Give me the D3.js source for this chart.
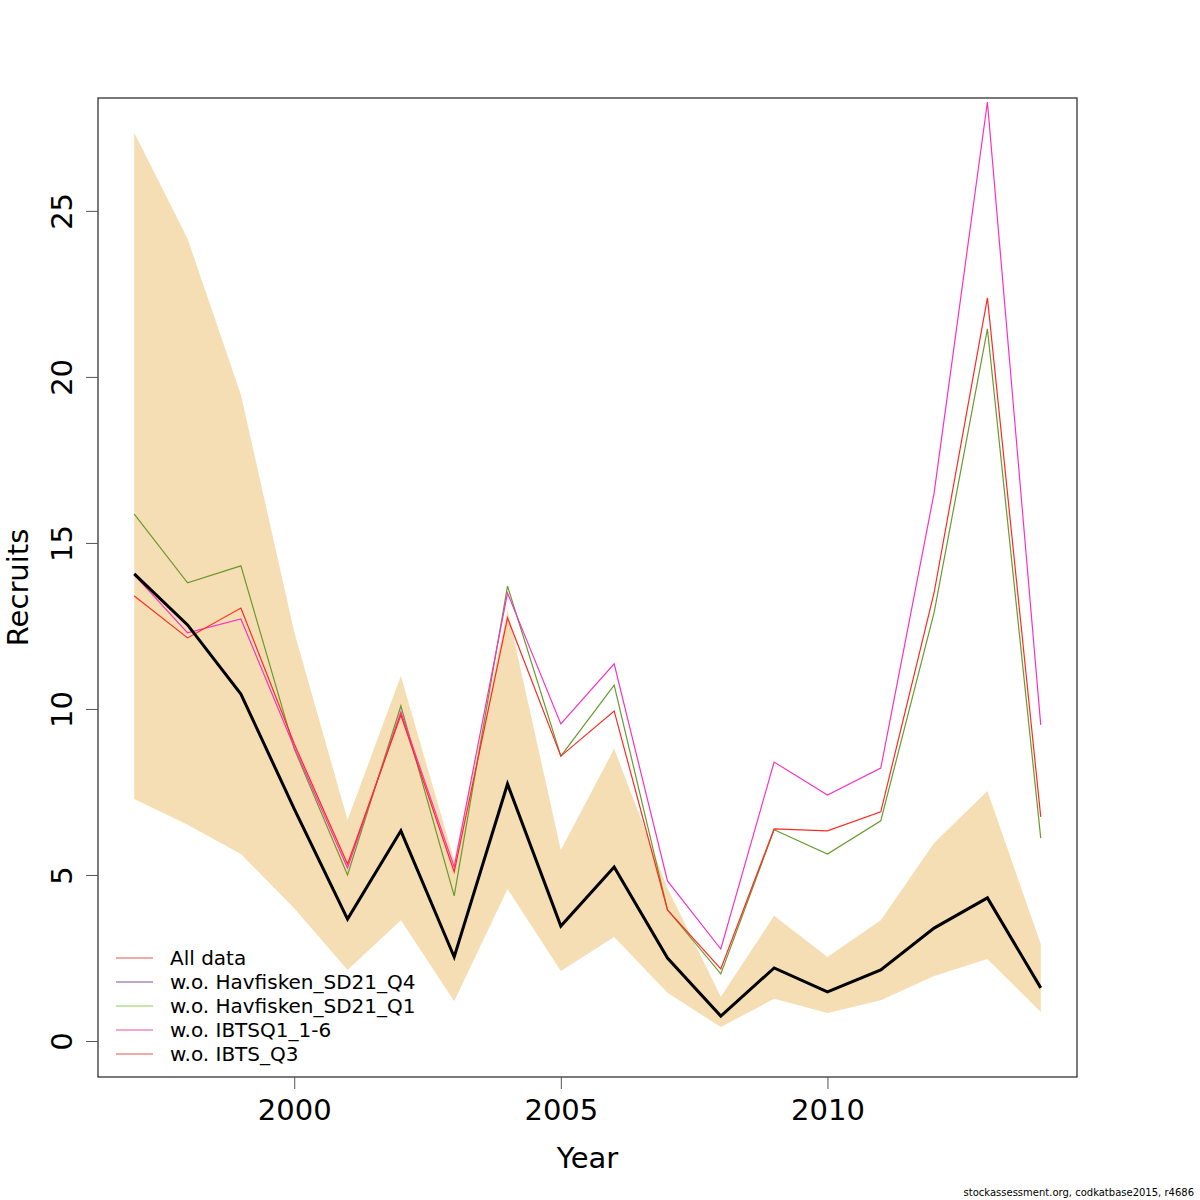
<!DOCTYPE html>
<html>
<head>
<meta charset="utf-8">
<title>Recruits leave-out</title>
<script src="https://d3js.org/d3.v7.min.js"></script>
<style>
    body { margin: 0; background: #fff; }
    text { font-family: "DejaVu Sans", sans-serif; fill: #000; }
</style>
</head>
<body>
<script>
    const years = d3.range(1997, 2015);
    const allData = [14.07, 12.53, 10.45, 6.99, 3.67, 6.33, 2.53, 7.74, 3.46, 5.24, 2.50, 0.75, 2.20, 1.48, 2.14, 3.40, 4.31, 1.60];
    const upper = [27.35, 24.16, 19.46, 12.32, 6.66, 10.99, 5.45, 12.98, 5.75, 8.80, 4.60, 1.33, 3.77, 2.53, 3.64, 5.96, 7.53, 2.92];
    const lower = [7.29, 6.51, 5.63, 4.00, 2.14, 3.64, 1.20, 4.58, 2.11, 3.13, 1.45, 0.42, 1.27, 0.84, 1.23, 1.96, 2.47, 0.87];
    const woHavQ4 = [14.07, 12.53, 10.45, 6.99, 3.67, 6.33, 2.53, 7.74, 3.46, 5.24, 2.50, 0.75, 2.20, 1.48, 2.14, 3.40, 4.31, 1.60];
    const woHavQ1 = [15.87, 13.80, 14.31, 8.80, 5.00, 10.09, 4.37, 13.70, 8.58, 10.72, 3.95, 2.02, 6.36, 5.63, 6.63, 12.90, 21.45, 6.11];
    const woIBTSQ1 = [14.04, 12.29, 12.71, 8.85, 5.21, 9.91, 5.24, 13.49, 9.55, 11.36, 4.82, 2.77, 8.40, 7.41, 8.22, 16.50, 28.28, 9.52];
    const woIBTSQ3 = [13.40, 12.14, 13.04, 8.95, 5.33, 9.82, 5.09, 12.74, 8.58, 9.94, 3.95, 2.17, 6.39, 6.33, 6.90, 13.50, 22.38, 6.75];

    const legendLabels = ["All data", "w.o. Havfisken_SD21_Q4", "w.o. Havfisken_SD21_Q1", "w.o. IBTSQ1_1-6", "w.o. IBTS_Q3"];
    const legendColors = ["#e8534a", "#7e4fa8", "#8cd152", "#e8519e", "#e8534a"];
    const xTicks = [2000, 2005, 2010];
    const yTicks = [0, 5, 10, 15, 20, 25];

    const width = 1200, height = 1200;
    const plotLeft = 98, plotRight = 1077, plotTop = 98, plotBottom = 1077;

    const svg = d3.select("body").append("svg")
        .attr("width", width)
        .attr("height", height);

    const x = d3.scaleLinear().domain([1996.32, 2014.68]).range([plotLeft, plotRight]);
    const y = d3.scaleLinear().domain([-1.084, 28.40]).range([plotBottom, plotTop]);

    // confidence band
    const area = d3.area()
        .x(function(d, i) { return x(years[i]); })
        .y0(function(d, i) { return y(lower[i]); })
        .y1(function(d) { return y(d); });
    svg.append("path")
        .attr("d", area(upper))
        .attr("fill", "#f5deb3");

    const line = d3.line()
        .x(function(d, i) { return x(years[i]); })
        .y(function(d) { return y(d); });

    const series = [
        {values: woHavQ4, color: "#7e4fa8"},
        {values: woHavQ1, color: "#6a9a2f"},
        {values: woIBTSQ1, color: "#fa32c4"},
        {values: woIBTSQ3, color: "#ff2a22"}
    ];
    svg.append("g").selectAll("path")
        .data(series)
        .join("path")
        .attr("d", function(d) { return line(d.values); })
        .attr("fill", "none")
        .attr("stroke", function(d) { return d.color; })
        .attr("stroke-width", 1.2);

    svg.append("path")
        .attr("d", line(allData))
        .attr("fill", "none")
        .attr("stroke", "#000")
        .attr("stroke-width", 3);

    // box
    svg.append("rect")
        .attr("x", plotLeft).attr("y", plotTop)
        .attr("width", plotRight - plotLeft).attr("height", plotBottom - plotTop)
        .attr("fill", "none").attr("stroke", "#333").attr("stroke-width", 1.3);

    // axes
    const xAxis = svg.append("g")
        .attr("transform", "translate(0," + plotBottom + ")")
        .call(d3.axisBottom(x).tickValues(xTicks).tickFormat(d3.format("d")).tickSize(12).tickPadding(10));
    xAxis.select(".domain").remove();
    xAxis.selectAll("line").attr("stroke", "#555");
    xAxis.selectAll("text").style("font-size", "29px").attr("font-family", "DejaVu Sans");

    const yAxis = svg.append("g")
        .attr("transform", "translate(" + plotLeft + ",0)")
        .call(d3.axisLeft(y).tickValues(yTicks).tickSize(12).tickFormat(d3.format("d")));
    yAxis.select(".domain").remove();
    yAxis.selectAll("line").attr("stroke", "#555");
    yAxis.selectAll("text")
        .style("font-size", "29px")
        .attr("font-family", "DejaVu Sans")
        .attr("x", null).attr("dy", null)
        .attr("text-anchor", "middle")
        .attr("transform", "translate(-26,0) rotate(-90)");

    svg.append("text")
        .attr("x", (plotLeft + plotRight) / 2).attr("y", 1168)
        .attr("text-anchor", "middle")
        .style("font-size", "29px")
        .text("Year");

    svg.append("text")
        .attr("transform", "translate(28," + (plotTop + plotBottom) / 2 + ") rotate(-90)")
        .attr("text-anchor", "middle")
        .style("font-size", "29px")
        .text("Recruits");

    // legend
    const legend = svg.append("g").attr("transform", "translate(116,958)");
    legendLabels.forEach(function(lab, i) {
        legend.append("line")
            .attr("x1", 0).attr("x2", 37)
            .attr("y1", i * 24).attr("y2", i * 24)
            .attr("stroke", legendColors[i]).attr("stroke-width", 1);
        legend.append("text")
            .attr("x", 54).attr("y", i * 24)
            .attr("dy", "0.35em")
            .style("font-size", "20px")
            .text(lab);
    });

    svg.append("text")
        .attr("x", 1194).attr("y", 1196)
        .attr("text-anchor", "end")
        .style("font-size", "10px")
        .text("stockassessment.org, codkatbase2015, r4686");
</script>
</body>
</html>
